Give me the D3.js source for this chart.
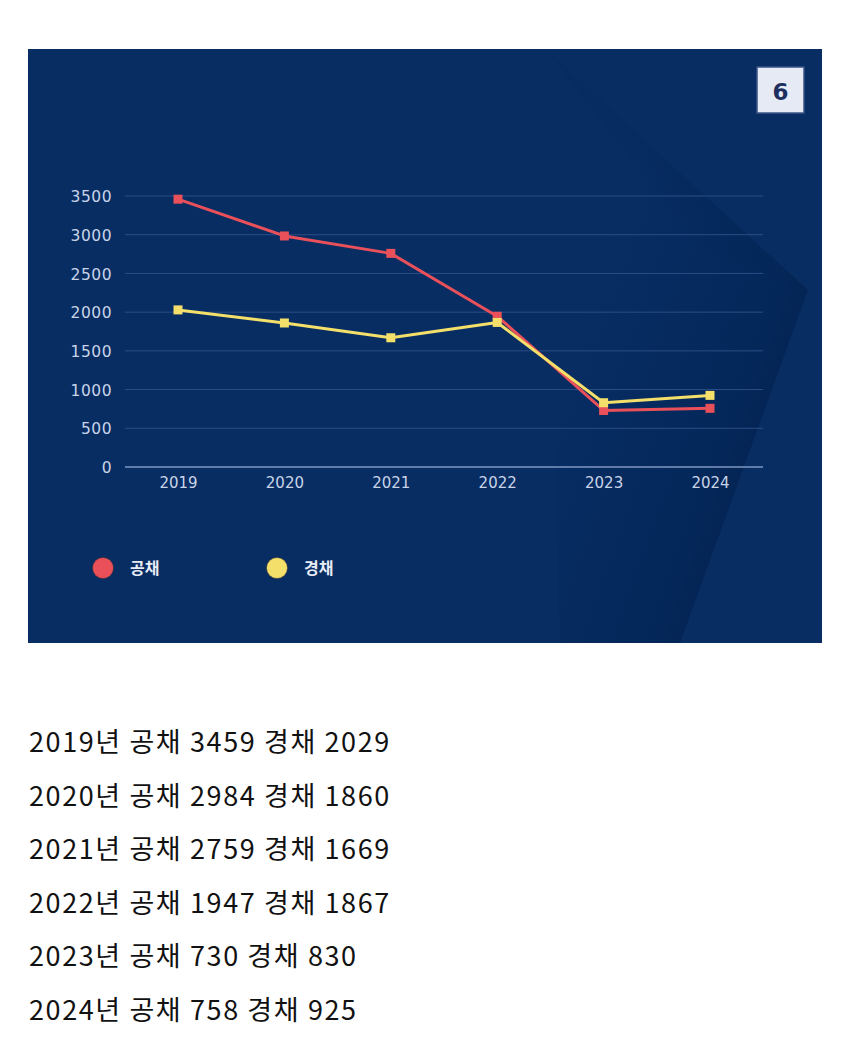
<!DOCTYPE html>
<html><head><meta charset="utf-8">
<script src="https://cdn.jsdelivr.net/npm/d3@7"></script>
<style>
html,body{margin:0;padding:0;background:#fff;}
svg{display:block;}
</style></head>
<body>
<svg id="c" width="850" height="1045"></svg>
<script>
const years = ["2019","2020","2021","2022","2023","2024"];
const gongchae = [3459, 2984, 2759, 1947, 730, 758];
const gyeongchae = [2029, 1860, 1669, 1867, 830, 925];
const yTicks = [0, 500, 1000, 1500, 2000, 2500, 3000, 3500];
const seriesNames = ["공채", "경채"];
const seriesColors = ["#e9505a", "#f3df6a"];

const svg = d3.select("#c");
// panel
svg.append("rect").attr("x",28).attr("y",49).attr("width",794).attr("height",594).attr("fill","#072d63");
const defs = svg.append("defs");
const g1 = defs.append("linearGradient").attr("id","g1").attr("gradientUnits","userSpaceOnUse")
  .attr("x1",560).attr("y1",375).attr("x2",752).attr("y2",445);
g1.append("stop").attr("offset","0").attr("stop-color","#02214f").attr("stop-opacity",0.0);
g1.append("stop").attr("offset","0.85").attr("stop-color","#02214f").attr("stop-opacity",0.45);
g1.append("stop").attr("offset","1").attr("stop-color","#02214f").attr("stop-opacity",0.7);
svg.append("path").attr("d","M545,49 L808,290 L680,643 L560,643 Z").attr("fill","url(#g1)");
const g2 = defs.append("linearGradient").attr("id","g2").attr("gradientUnits","userSpaceOnUse")
  .attr("x1",640).attr("y1",200).attr("x2",690).attr("y2",150);
g2.append("stop").attr("offset","0").attr("stop-color","#02214f").attr("stop-opacity",0.0);
g2.append("stop").attr("offset","1").attr("stop-color","#02214f").attr("stop-opacity",0.25);
svg.append("path").attr("d","M545,49 L808,290 L700,250 Z").attr("fill","url(#g2)");

// badge
svg.append("rect").attr("x",757).attr("y",67).attr("width",47).attr("height",46).attr("fill","#e6eaf4").attr("stroke","#3a5486").attr("stroke-width",1.5);
svg.append("text").attr("x",780.5).attr("y",99.5).attr("text-anchor","middle").attr("font-family","'DejaVu Sans', sans-serif").attr("font-weight","bold").attr("font-size",23).attr("fill","#1d2f5e").text("6");

const x = d3.scalePoint().domain(years).range([178, 710]);
const y = d3.scaleLinear().domain([0, 3500]).range([467, 196]);

// grid
const grid = svg.append("g");
grid.selectAll("line").data(yTicks).join("line")
  .attr("x1",125).attr("x2",763).attr("y1",d=>y(d)).attr("y2",d=>y(d))
  .attr("stroke", d=> d===0 ? "#7f97c2" : "#2c4d85").attr("stroke-width", d=>d===0?1.3:1);

const tickFont = "'DejaVu Sans', sans-serif";
const yAxis = d3.axisLeft(y).tickValues(yTicks).tickSize(0).tickPadding(0).tickFormat(d3.format("d"));
const ya = svg.append("g").attr("transform","translate(112,0)").call(yAxis);
ya.select(".domain").remove();
ya.selectAll("text").attr("font-family",tickFont).attr("font-size",15.5).attr("letter-spacing","0.5px").attr("fill","#c9d4e8").attr("dy","0.36em");

const xAxis = d3.axisBottom(x).tickSize(0).tickPadding(0);
const xa = svg.append("g").attr("transform","translate(0,477)").call(xAxis);
xa.select(".domain").remove();
xa.selectAll("text").attr("font-family",tickFont).attr("font-size",15).attr("fill","#c9d4e8").attr("dy","0.71em");

const series = [gongchae, gyeongchae];
const line = d3.line().x((d,i)=>x(years[i])).y(d=>y(d));
series.forEach((s,k)=>{
  svg.append("path").datum(s).attr("d",line).attr("fill","none").attr("stroke",seriesColors[k]).attr("stroke-width",3).attr("stroke-linejoin","round");
  svg.append("g").selectAll("rect").data(s).join("rect")
    .attr("x",(d,i)=>x(years[i])-4.5).attr("y",d=>y(d)-4.5).attr("width",9).attr("height",9).attr("fill",seriesColors[k]);
});

// legend
const legX = [103, 277];
seriesNames.forEach((n,k)=>{
  svg.append("circle").attr("cx",legX[k]).attr("cy",568).attr("r",10.5).attr("fill",seriesColors[k]).attr("stroke","#3a2a2a").attr("stroke-width",0.5);
  svg.append("text").attr("x",legX[k]+27).attr("y",574).attr("font-family","'Noto Sans CJK KR', sans-serif").attr("font-weight","bold").attr("font-size",16).attr("fill","#e8ecf5").text(n);
});

// text lines below
const lines = years.map((yr,i)=>`${yr}년 공채 ${gongchae[i]} 경채 ${gyeongchae[i]}`);
svg.append("g").selectAll("text").data(lines).join("text")
  .attr("x",29).attr("y",(d,i)=>752+i*53.6)
  .attr("font-family","'Noto Sans CJK KR', sans-serif").attr("font-size",27).attr("letter-spacing","1.6px").attr("fill","#111").text(d=>d);
</script>
</body></html>
